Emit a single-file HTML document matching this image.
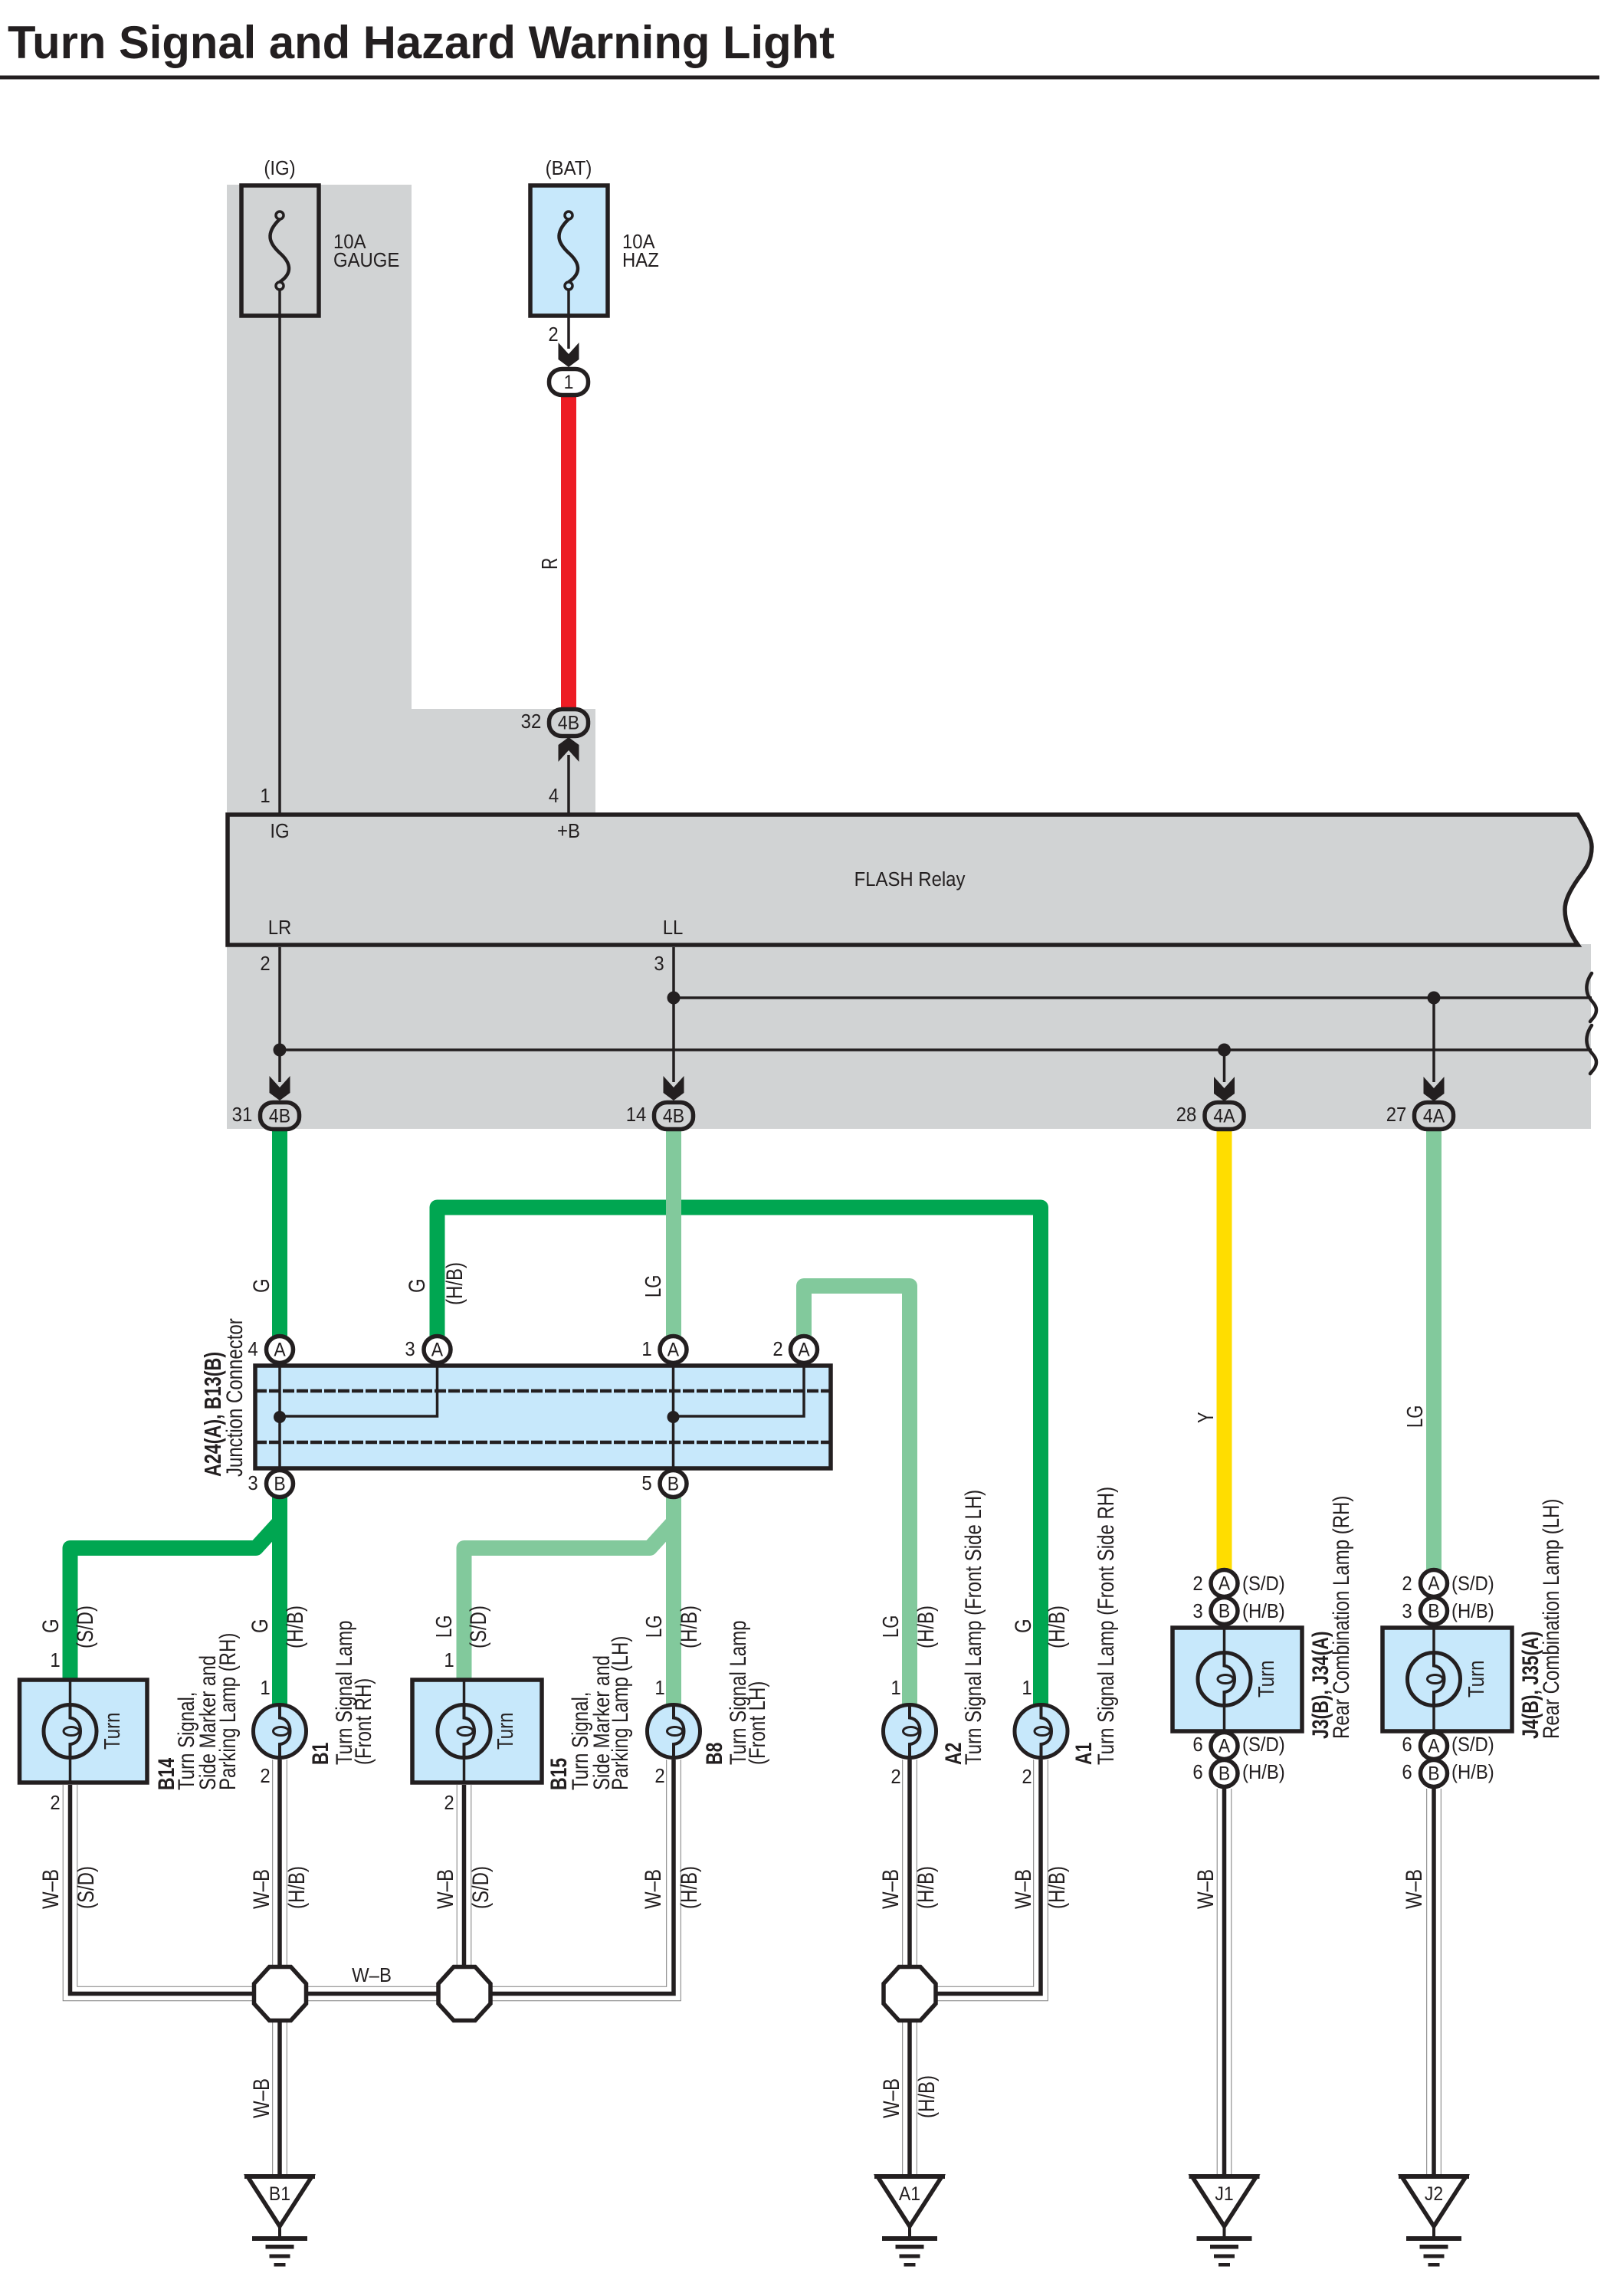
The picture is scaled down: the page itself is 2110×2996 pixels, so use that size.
<!DOCTYPE html>
<html><head><meta charset="utf-8"><title>Turn Signal and Hazard Warning Light</title>
<style>
html,body{margin:0;padding:0;background:#fff}
svg{display:block}
text{font-family:"Liberation Sans",sans-serif;font-size:24px;fill:#231f20}
text:not([transform]){font-size:26px;transform-box:fill-box;transform-origin:50% 100%;transform:scaleX(.92)}
text:not([transform]):not(.m):not(.c){transform-origin:0 100%}
text.c:not([transform]){font-size:25px}
.m{text-anchor:middle}
.b{font-weight:bold}
.c{text-anchor:middle}
.o{fill:none;stroke:#231f20;stroke-width:5.5}
.l{fill:none;stroke:#231f20;stroke-width:3.5}
.wire{fill:none;stroke-width:20;stroke-linejoin:round}
</style></head><body>
<svg width="2110" height="2996" viewBox="0 0 2110 2996" xmlns="http://www.w3.org/2000/svg">
<defs>
<g id="arrow"><polygon points="-13.5,0 0,15 13.5,0 13.5,22 0,32 -13.5,22" fill="#231f20"/></g>
<g id="lamp"><circle r="34.5" fill="#c7e8fb" stroke="#231f20" stroke-width="5"/>
<path d="M0 -34V-17.5C10 -16 13.5 -8 13.5 0C13.5 8 10 16 0 17V34" fill="none" stroke="#231f20" stroke-width="4"/>
<ellipse cx="1.5" cy="0" rx="10" ry="5.5" fill="none" stroke="#231f20" stroke-width="3"/></g>
<g id="conn"><circle r="17.5" fill="#fff" stroke="#231f20" stroke-width="5.5"/></g>
<g id="gconn"><rect x="-25.5" y="-17.5" width="51" height="35" rx="17" ry="16" fill="#d1d3d4" stroke="#231f20" stroke-width="5.5"/></g>
<g id="oct"><polygon points="-14,-35 14,-35 34,-13 34,13 14,35 -14,35 -34,13 -34,-13" fill="#fff" stroke="#231f20" stroke-width="5.5"/></g>
<g id="gnd"><polygon points="-42,2840 42,2840 0,2905" fill="#fff" stroke="#231f20" stroke-width="5.5"/>
<rect x="-46" y="2837" width="92" height="6" fill="#231f20"/>
<rect x="-2" y="2904" width="4" height="17" fill="#231f20"/>
<rect x="-36" y="2918" width="72" height="6" fill="#231f20"/>
<rect x="-18.5" y="2929" width="37" height="5.5" fill="#231f20"/>
<rect x="-13.5" y="2941.5" width="27" height="5" fill="#231f20"/>
<rect x="-7.5" y="2953" width="15" height="4.5" fill="#231f20"/></g>
<g id="dw"><path d="M91.5 2329V2601.5H879V2296"/><path d="M365 2296V2838"/><path d="M605.5 2329V2601.5"/>
<path d="M1187 2296V2838"/><path d="M1358 2296V2601.5H1187"/><path d="M1597.5 2334V2838"/><path d="M1871 2334V2838"/></g>
</defs>

<text transform="translate(10,76)" class="b" style="font-size:60px" textLength="1079" lengthAdjust="spacingAndGlyphs">Turn Signal and Hazard Warning Light</text>
<rect x="0" y="98.5" width="2087" height="5" fill="#231f20"/>

<path d="M296 241H537V925H777V1063H296Z" fill="#d1d3d4"/>
<rect x="296" y="1232" width="1780" height="241" fill="#d1d3d4"/>

<!-- fuses -->
<rect x="315" y="242" width="101" height="170" class="o" style="fill:#d1d3d4"/>
<rect x="692" y="242" width="101" height="170" class="o" style="fill:#c7e8fb"/>
<path d="M365 286C345 305 352 318 365 330C382 345 380 358 365 368" fill="none" stroke="#231f20" stroke-width="4.5"/>
<path d="M742 286C722 305 729 318 742 330C759 345 757 358 742 368" fill="none" stroke="#231f20" stroke-width="4.5"/>
<circle cx="365" cy="281" r="5" fill="#d1d3d4" stroke="#231f20" stroke-width="3.5"/>
<circle cx="365" cy="373" r="5" fill="#d1d3d4" stroke="#231f20" stroke-width="3.5"/>
<circle cx="742" cy="281" r="5" fill="#c7e8fb" stroke="#231f20" stroke-width="3.5"/>
<circle cx="742" cy="373" r="5" fill="#c7e8fb" stroke="#231f20" stroke-width="3.5"/>
<path class="l" d="M365 378V1063"/>
<path class="l" d="M742 378V455"/>
<path class="l" d="M742 985V1063"/>
<text x="365" y="228" class="m">(IG)</text>
<text x="742" y="228" class="m">(BAT)</text>
<text x="435" y="324">10A</text><text x="435" y="348">GAUGE</text>
<text x="812" y="324">10A</text><text x="812" y="348">HAZ</text>
<text x="722" y="445" class="m">2</text>
<use href="#arrow" x="742" y="447"/>

<!-- red wire -->
<path class="wire" stroke="#ed1c24" d="M742 515V925"/>
<g transform="translate(742,498.5)"><rect x="-25.5" y="-17" width="51" height="34" rx="17" ry="16" fill="#fff" stroke="#231f20" stroke-width="5.5"/></g>
<text x="742" y="507" class="c">1</text>
<text transform="translate(727,743) rotate(-90) scale(1,1.35)" style="font-size:21px">R</text>
<use href="#gconn" x="742" y="943"/>
<text x="742" y="951.5" class="c">4B</text>
<text x="693" y="950" class="m">32</text>
<g transform="translate(742,994) scale(1,-1)"><use href="#arrow"/></g>
<text x="722.5" y="1047" class="m">4</text>
<text x="346" y="1047" class="m">1</text>

<!-- relay -->
<path d="M297 1063H2059C2072 1085 2077 1095 2077 1105C2077 1125 2068 1135 2059 1147C2048 1163 2042 1175 2042 1187C2042 1205 2050 1220 2059 1233H297Z" class="o" style="fill:#d1d3d4"/>
<text x="365" y="1093" class="m">IG</text>
<text x="742" y="1093" class="m">+B</text>
<text x="1187" y="1156" class="m">FLASH Relay</text>
<text x="365" y="1219" class="m">LR</text>
<text x="878" y="1219" class="m">LL</text>
<text x="346" y="1266" class="m">2</text>
<text x="860" y="1266" class="m">3</text>

<!-- internal wires below relay -->
<path class="l" d="M365 1236V1412"/><path class="l" d="M879 1236V1412"/>
<path class="l" d="M879 1302H2077"/><path class="l" d="M365 1370H2077"/>
<path class="l" d="M1597.5 1370V1412"/><path class="l" d="M1871 1302V1412"/>
<circle cx="879" cy="1302" r="8.5" fill="#231f20"/>
<circle cx="365" cy="1370" r="8.5" fill="#231f20"/>
<circle cx="1597.5" cy="1370" r="8.5" fill="#231f20"/>
<circle cx="1871" cy="1302" r="8.5" fill="#231f20"/>
<g fill="none" stroke="#231f20" stroke-width="4.5" stroke-linecap="round">
<path d="M2077 1270C2070 1280 2069 1290 2072 1298C2075 1306 2083 1310 2083 1318C2083 1325 2078 1329 2075 1333"/>
<path d="M2077 1338C2070 1348 2069 1358 2072 1366C2075 1374 2083 1378 2083 1386C2083 1393 2078 1397 2075 1401"/>
</g>

<!-- coloured wires -->
<path class="wire" stroke="#00a651" d="M365 1470V1745"/>
<path class="wire" stroke="#00a651" d="M570.5 1745V1575.5H1358V2225"/>
<path class="wire" stroke="#82c99c" d="M879 1470V1745"/>
<path class="wire" stroke="#82c99c" d="M1049 1745V1678H1187V2225"/>
<path class="wire" stroke="#ffdd00" d="M1597.5 1470V2050"/>
<path class="wire" stroke="#82c99c" d="M1871 1470V2050"/>
<path class="wire" stroke="#00a651" d="M365 1950V2225"/>
<path class="wire" stroke="#00a651" d="M91.5 2192V2020H334L365 1986"/>
<path class="wire" stroke="#82c99c" d="M879 1950V2225"/>
<path class="wire" stroke="#82c99c" d="M605.5 2192V2020H848L879 1986"/>

<!-- connectors on relay bottom -->
<use href="#arrow" x="365" y="1404"/><use href="#arrow" x="879" y="1404"/>
<use href="#arrow" x="1597.5" y="1405"/><use href="#arrow" x="1871" y="1405"/>
<use href="#gconn" x="365" y="1456"/><text x="365" y="1464.5" class="c">4B</text>
<use href="#gconn" x="879" y="1456"/><text x="879" y="1464.5" class="c">4B</text>
<use href="#gconn" x="1597.5" y="1456"/><text x="1597.5" y="1464.5" class="c">4A</text>
<use href="#gconn" x="1871" y="1456"/><text x="1871" y="1464.5" class="c">4A</text>
<text x="316" y="1463" class="m">31</text><text x="830" y="1463" class="m">14</text>
<text x="1548" y="1463" class="m">28</text><text x="1822" y="1463" class="m">27</text>

<!-- labels above junction -->
<text transform="translate(351,1687) rotate(-90) scale(1,1.25)">G</text>
<text transform="translate(554,1687) rotate(-90) scale(1,1.25)">G</text>
<text transform="translate(603,1703) rotate(-90) scale(1,1.25)">(H/B)</text>
<text transform="translate(862,1693) rotate(-90) scale(1,1.3)" style="font-size:22px">LG</text>
<text transform="translate(1583,1857) rotate(-90) scale(1,1.3)" style="font-size:22px">Y</text>
<text transform="translate(1856,1863) rotate(-90) scale(1,1.3)" style="font-size:22px">LG</text>

<!-- junction connector -->
<use href="#conn" x="365" y="1761"/><use href="#conn" x="570.5" y="1761"/><use href="#conn" x="878.5" y="1761"/><use href="#conn" x="1049" y="1761"/>
<use href="#conn" x="365" y="1936"/><use href="#conn" x="878.5" y="1936"/>
<rect x="333" y="1782" width="751" height="134" class="o" style="fill:#c7e8fb"/>
<path d="M333 1815H1084M333 1882H1084" fill="none" stroke="#231f20" stroke-width="4.5" stroke-dasharray="15 3"/>
<path class="l" d="M365 1782V1916M570.5 1782V1848H365M878.5 1782V1916M1049 1782V1848H878.5"/>
<circle cx="365" cy="1849" r="8" fill="#231f20"/><circle cx="878.5" cy="1849" r="8" fill="#231f20"/>
<text x="365" y="1769.5" class="c">A</text><text x="570.5" y="1769.5" class="c">A</text><text x="878.5" y="1769.5" class="c">A</text><text x="1049" y="1769.5" class="c">A</text>
<text x="365" y="1944.5" class="c">B</text><text x="878.5" y="1944.5" class="c">B</text>
<text x="330" y="1769" class="m">4</text><text x="535" y="1769" class="m">3</text><text x="844" y="1769" class="m">1</text><text x="1015" y="1769" class="m">2</text>
<text x="330" y="1944" class="m">3</text><text x="844" y="1944" class="m">5</text>
<text transform="translate(288,1927) rotate(-90) scale(1,1.3)" class="b" style="font-size:23.3px">A24(A), B13(B)</text>
<text transform="translate(316,1927) rotate(-90) scale(1,1.25)">Junction Connector</text>

<!-- double wires -->
<use href="#dw" fill="none" stroke="#7d7d7d" stroke-width="19.6"/>
<use href="#dw" fill="none" stroke="#fff" stroke-width="17.6"/>
<use href="#dw" fill="none" stroke="#231f20" stroke-width="5.5"/>

<!-- lamp boxes -->
<rect x="25.5" y="2192" width="166.5" height="134" class="o" style="fill:#c7e8fb"/>
<rect x="538" y="2192" width="169" height="134" class="o" style="fill:#c7e8fb"/>
<rect x="1530" y="2124" width="169" height="135" class="o" style="fill:#c7e8fb"/>
<rect x="1804" y="2124" width="169" height="135" class="o" style="fill:#c7e8fb"/>
<path class="l" d="M91.5 2192V2326M605.5 2192V2326M1597.5 2124V2259M1871 2124V2259"/>
<use href="#lamp" x="91.5" y="2259"/><use href="#lamp" x="365" y="2259"/>
<use href="#lamp" x="605.5" y="2259"/><use href="#lamp" x="879" y="2259"/>
<use href="#lamp" x="1187" y="2259"/><use href="#lamp" x="1358.5" y="2259"/>
<use href="#lamp" x="1597.5" y="2191"/><use href="#lamp" x="1871" y="2191"/>
<text transform="translate(156,2283) rotate(-90) scale(1,1.2)">Turn</text>
<text transform="translate(669,2283) rotate(-90) scale(1,1.2)">Turn</text>
<text transform="translate(1662,2215) rotate(-90) scale(1,1.2)">Turn</text>
<text transform="translate(1936,2215) rotate(-90) scale(1,1.2)">Turn</text>

<!-- J connectors -->
<use href="#conn" x="1597.5" y="2066"/><use href="#conn" x="1597.5" y="2102"/>
<use href="#conn" x="1871" y="2066"/><use href="#conn" x="1871" y="2102"/>
<use href="#conn" x="1597.5" y="2278"/><use href="#conn" x="1597.5" y="2314"/>
<use href="#conn" x="1871" y="2278"/><use href="#conn" x="1871" y="2314"/>
<text x="1597.5" y="2074.5" class="c">A</text><text x="1597.5" y="2110.5" class="c">B</text>
<text x="1597.5" y="2286.5" class="c">A</text><text x="1597.5" y="2322.5" class="c">B</text>
<text x="1871" y="2074.5" class="c">A</text><text x="1871" y="2110.5" class="c">B</text>
<text x="1871" y="2286.5" class="c">A</text><text x="1871" y="2322.5" class="c">B</text>
<text x="1563" y="2075" class="m">2</text><text x="1563" y="2111" class="m">3</text><text x="1563" y="2285" class="m">6</text><text x="1563" y="2321" class="m">6</text>
<text x="1836" y="2075" class="m">2</text><text x="1836" y="2111" class="m">3</text><text x="1836" y="2285" class="m">6</text><text x="1836" y="2321" class="m">6</text>
<text x="1621" y="2075">(S/D)</text><text x="1621" y="2111">(H/B)</text><text x="1621" y="2285">(S/D)</text><text x="1621" y="2321">(H/B)</text>
<text x="1894" y="2075">(S/D)</text><text x="1894" y="2111">(H/B)</text><text x="1894" y="2285">(S/D)</text><text x="1894" y="2321">(H/B)</text>

<!-- lamp pin numbers -->
<text x="72" y="2175" class="m">1</text><text x="72" y="2361" class="m">2</text>
<text x="346" y="2211" class="m">1</text><text x="346" y="2326" class="m">2</text>
<text x="586" y="2175" class="m">1</text><text x="586" y="2361" class="m">2</text>
<text x="861" y="2211" class="m">1</text><text x="861" y="2326" class="m">2</text>
<text x="1169" y="2211" class="m">1</text><text x="1169" y="2327" class="m">2</text>
<text x="1340" y="2211" class="m">1</text><text x="1340" y="2327" class="m">2</text>

<!-- wire labels upper -->
<text transform="translate(76,2131) rotate(-90) scale(1,1.25)">G</text>
<text transform="translate(121,2151) rotate(-90) scale(1,1.25)">(S/D)</text>
<text transform="translate(349,2131) rotate(-90) scale(1,1.25)">G</text>
<text transform="translate(395,2151) rotate(-90) scale(1,1.25)">(H/B)</text>
<text transform="translate(589,2137) rotate(-90) scale(1,1.3)" style="font-size:22px">LG</text>
<text transform="translate(634,2151) rotate(-90) scale(1,1.25)">(S/D)</text>
<text transform="translate(863,2137) rotate(-90) scale(1,1.3)" style="font-size:22px">LG</text>
<text transform="translate(909,2151) rotate(-90) scale(1,1.25)">(H/B)</text>
<text transform="translate(1172,2137) rotate(-90) scale(1,1.3)" style="font-size:22px">LG</text>
<text transform="translate(1218,2151) rotate(-90) scale(1,1.25)">(H/B)</text>
<text transform="translate(1345,2131) rotate(-90) scale(1,1.25)">G</text>
<text transform="translate(1389,2151) rotate(-90) scale(1,1.25)">(H/B)</text>

<!-- wire labels lower -->
<text transform="translate(76,2491) rotate(-90) scale(1,1.25)">W–B</text>
<text transform="translate(122,2491) rotate(-90) scale(1,1.25)">(S/D)</text>
<text transform="translate(351,2491) rotate(-90) scale(1,1.25)">W–B</text>
<text transform="translate(397,2491) rotate(-90) scale(1,1.25)">(H/B)</text>
<text transform="translate(591,2491) rotate(-90) scale(1,1.25)">W–B</text>
<text transform="translate(637,2491) rotate(-90) scale(1,1.25)">(S/D)</text>
<text transform="translate(862,2491) rotate(-90) scale(1,1.25)">W–B</text>
<text transform="translate(909,2491) rotate(-90) scale(1,1.25)">(H/B)</text>
<text transform="translate(1172,2491) rotate(-90) scale(1,1.25)">W–B</text>
<text transform="translate(1218,2491) rotate(-90) scale(1,1.25)">(H/B)</text>
<text transform="translate(1345,2491) rotate(-90) scale(1,1.25)">W–B</text>
<text transform="translate(1389,2491) rotate(-90) scale(1,1.25)">(H/B)</text>
<text transform="translate(1583,2491) rotate(-90) scale(1,1.25)">W–B</text>
<text transform="translate(1855,2491) rotate(-90) scale(1,1.25)">W–B</text>
<text transform="translate(351,2764) rotate(-90) scale(1,1.25)">W–B</text>
<text transform="translate(1173,2764) rotate(-90) scale(1,1.25)">W–B</text>
<text transform="translate(1219,2764) rotate(-90) scale(1,1.25)">(H/B)</text>
<text x="485" y="2586" class="m">W–B</text>

<!-- component labels -->
<text transform="translate(227,2336) rotate(-90) scale(1,1.3)" class="b" style="font-size:23px">B14</text>
<text transform="translate(253,2336) rotate(-90) scale(1,1.25)">Turn Signal,</text>
<text transform="translate(281,2336) rotate(-90) scale(1,1.25)">Side Marker and</text>
<text transform="translate(307,2336) rotate(-90) scale(1,1.25)">Parking Lamp (RH)</text>
<text transform="translate(739,2336) rotate(-90) scale(1,1.3)" class="b" style="font-size:23px">B15</text>
<text transform="translate(767,2336) rotate(-90) scale(1,1.25)">Turn Signal,</text>
<text transform="translate(795,2336) rotate(-90) scale(1,1.25)">Side Marker and</text>
<text transform="translate(819,2336) rotate(-90) scale(1,1.25)">Parking Lamp (LH)</text>
<text transform="translate(428,2303) rotate(-90) scale(1,1.3)" class="b" style="font-size:23px">B1</text>
<text transform="translate(459,2303) rotate(-90) scale(1,1.25)">Turn Signal Lamp</text>
<text transform="translate(484,2303) rotate(-90) scale(1,1.25)">(Front RH)</text>
<text transform="translate(942,2303) rotate(-90) scale(1,1.3)" class="b" style="font-size:23px">B8</text>
<text transform="translate(973,2303) rotate(-90) scale(1,1.25)">Turn Signal Lamp</text>
<text transform="translate(998,2303) rotate(-90) scale(1,1.25)">(Front LH)</text>
<text transform="translate(1254,2303) rotate(-90) scale(1,1.3)" class="b" style="font-size:23px">A2</text>
<text transform="translate(1280,2303) rotate(-90) scale(1,1.25)">Turn Signal Lamp (Front Side LH)</text>
<text transform="translate(1424,2303) rotate(-90) scale(1,1.3)" class="b" style="font-size:23px">A1</text>
<text transform="translate(1453,2303) rotate(-90) scale(1,1.25)">Turn Signal Lamp (Front Side RH)</text>
<text transform="translate(1733,2269) rotate(-90) scale(1,1.3)" class="b" style="font-size:23px">J3(B), J34(A)</text>
<text transform="translate(1760,2269) rotate(-90) scale(1,1.25)">Rear Combination Lamp (RH)</text>
<text transform="translate(2007,2269) rotate(-90) scale(1,1.3)" class="b" style="font-size:23px">J4(B), J35(A)</text>
<text transform="translate(2034,2269) rotate(-90) scale(1,1.25)">Rear Combination Lamp (LH)</text>

<!-- splices -->
<use href="#oct" x="365.5" y="2601.5"/><use href="#oct" x="606" y="2601.5"/><use href="#oct" x="1187" y="2601.5"/>

<!-- grounds -->
<g transform="translate(365,0)"><use href="#gnd"/></g>
<g transform="translate(1187,0)"><use href="#gnd"/></g>
<g transform="translate(1597.5,0)"><use href="#gnd"/></g>
<g transform="translate(1871,0)"><use href="#gnd"/></g>
<text x="365" y="2871" class="c">B1</text><text x="1187" y="2871" class="c">A1</text>
<text x="1597.5" y="2871" class="c">J1</text><text x="1871" y="2871" class="c">J2</text>
</svg>
</body></html>
